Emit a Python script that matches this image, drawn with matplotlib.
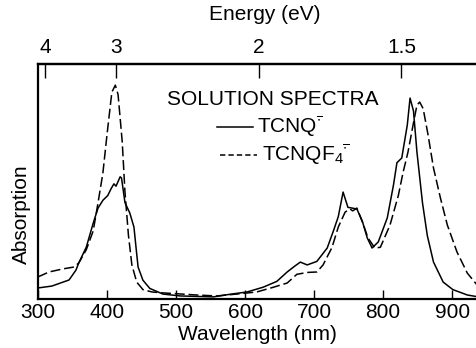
import numpy as np
import matplotlib
matplotlib.use("Agg")
import matplotlib.pyplot as plt

plt.rcParams['font.family'] = ['Liberation Sans', 'DejaVu Sans']
plt.rcParams['mathtext.fontset'] = 'custom'
plt.rcParams['mathtext.rm'] = 'Liberation Sans'
plt.rcParams['mathtext.it'] = 'Liberation Sans'

#%% Data (wavelength in nm, absorption in arb. units)
wl_tcnq = [300, 320, 345, 355, 359, 370, 380, 387, 394, 401, 406, 410, 413, 419, 421,
           426, 433, 439, 442, 445, 452, 462, 481, 506, 554, 578, 603, 626, 646,
           661, 672, 680, 690, 704, 719, 728, 735, 742, 749, 755, 762, 770, 777,
           784, 793, 806, 815, 820, 827, 835, 839, 844, 849, 857, 864, 873, 887,
           901, 922, 936]
abs_tcnq = [0.047, 0.055, 0.081, 0.123, 0.153, 0.221, 0.323, 0.387, 0.42, 0.44, 0.47,
            0.49, 0.48, 0.52, 0.515, 0.41, 0.366, 0.306, 0.22, 0.136, 0.08, 0.045,
            0.021, 0.013, 0.009, 0.02, 0.03, 0.05, 0.075, 0.115, 0.14, 0.157,
            0.145, 0.16, 0.217, 0.29, 0.35, 0.455, 0.39, 0.387, 0.383, 0.33,
            0.26, 0.217, 0.243, 0.345, 0.485, 0.58, 0.60, 0.74, 0.855, 0.80,
            0.625, 0.41, 0.27, 0.157, 0.072, 0.04, 0.017, 0.01]

wl_tcnqf4 = [300, 316, 336, 352, 359, 370, 380, 387, 394, 400, 407, 412, 416, 422,
             426, 431, 436, 443, 452, 465, 481, 530, 559, 588, 617, 641, 661, 675,
             690, 704, 713, 726, 735, 745, 752, 756, 762, 771, 778, 788, 796, 810,
             822, 829, 836, 844, 849, 853, 858, 865, 873, 883, 893, 907, 922, 936]
abs_tcnqf4 = [0.094, 0.115, 0.128, 0.136, 0.153, 0.21, 0.29, 0.41, 0.536, 0.70, 0.88,
              0.91, 0.87, 0.67, 0.455, 0.272, 0.145, 0.072, 0.04, 0.03, 0.026,
              0.017, 0.013, 0.021, 0.03, 0.05, 0.068, 0.105, 0.113, 0.115, 0.145,
              0.22, 0.306, 0.37, 0.383, 0.375, 0.387, 0.32, 0.26, 0.217, 0.22,
              0.315, 0.44, 0.54, 0.625, 0.75, 0.825, 0.838, 0.81, 0.70, 0.557,
              0.43, 0.315, 0.2, 0.11, 0.06]

wl_ticks = [300, 400, 500, 600, 700, 800, 900]
ev_ticks = [4, 3, 2, 1.5]
ev_labels = ["4", "3", "2", "1.5"]

HC = 1239.84  # eV*nm

def nm2ev(x):
    x = np.asarray(x, dtype=float)
    return HC / np.where(x == 0, 1e-9, x)

#%% Plot
fig = plt.figure(figsize=(4.77, 3.48), dpi=100)
ax = fig.add_axes([38/477, 49/348, 439/477, 235/348])

ax.plot(wl_tcnq, abs_tcnq, color='black', lw=1.1)
ax.plot(wl_tcnqf4, abs_tcnqf4, color='black', lw=1.1, dashes=(6.5, 2.5))

ax.set_xlim(300, 936)
ax.set_ylim(0, 1)
ax.set_xticks(wl_ticks)
ax.set_yticks([])
ax.tick_params(axis='x', direction='in', length=6.5, width=1, labelsize=15, pad=3)
for side in ['left', 'bottom', 'top']:
    ax.spines[side].set_linewidth(1.6)
ax.spines['right'].set_visible(False)
ax.set_xlabel('Wavelength (nm)', fontsize=15, labelpad=2)

sec = ax.secondary_xaxis('top', functions=(nm2ev, nm2ev))
sec.set_xticks(ev_ticks)
sec.set_xticklabels(ev_labels)
sec.tick_params(axis='x', direction='in', length=10, width=1, labelsize=15, pad=5)
sec.spines['top'].set_linewidth(1.6)

fig.text(265/477, 1 - 15/348, 'Energy (eV)', fontsize=15, ha='center', va='center')
fig.text(21/477, 1 - 214/348, 'Absorption', fontsize=15, rotation=90,
         ha='center', va='center')

# legend block
ax.text(0.294, 0.847, 'SOLUTION SPECTRA', transform=ax.transAxes, fontsize=15,
        ha='left', va='center')
ax.plot([0.408, 0.490], [0.732, 0.732], transform=ax.transAxes, color='black', lw=1.1)
ax.text(0.499, 0.732, r'TCNQ$^{\overline{\bullet}}$', transform=ax.transAxes,
        fontsize=15, ha='left', va='center')
ax.plot([0.415, 0.499], [0.613, 0.613], transform=ax.transAxes, color='black', lw=1.1,
        dashes=(3.5, 2))
ax.text(0.510, 0.613, r'TCNQF$_4$$^{\overline{\bullet}}$', transform=ax.transAxes,
        fontsize=15, ha='left', va='center')

fig.savefig('out.png', dpi=100)
